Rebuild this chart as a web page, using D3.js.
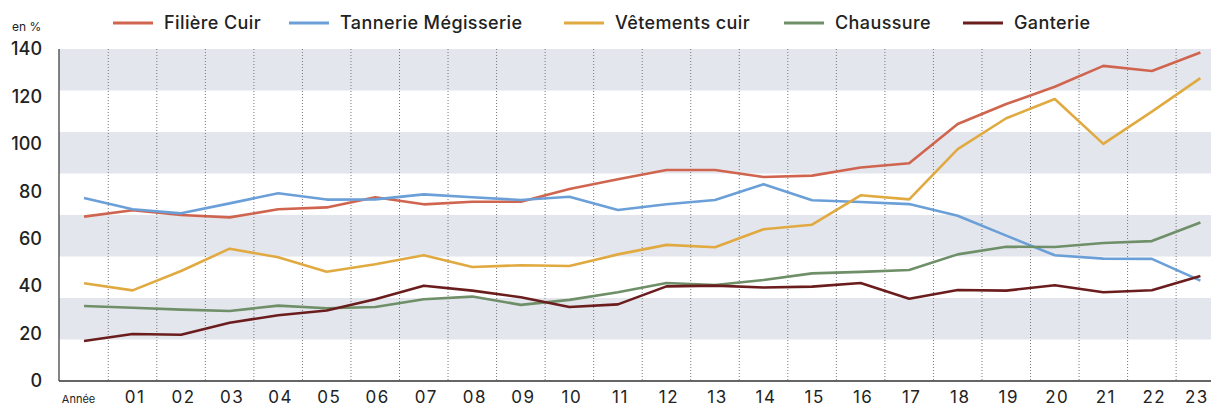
<!DOCTYPE html>
<html>
<head>
<meta charset="utf-8">
<script src="https://cdn.jsdelivr.net/npm/d3@7"></script>
<style>
  body { margin: 0; background: #fff; }
  svg text { font-family: "Inter", "DejaVu Sans", sans-serif; fill: #222; }
</style>
</head>
<body>
<svg id="chart" width="1211" height="407"></svg>
<script>
// data
var yearLabels = ["Année","01","02","03","04","05","06","07","08","09","10","11","12",
                  "13","14","15","16","17","18","19","20","21","22","23"];
var seriesNames = ["Filière Cuir", "Tannerie Mégisserie", "Vêtements cuir", "Chaussure", "Ganterie"];
var filiereCuir = [69.3,72,70,69,72.4,73.2,77.5,74.5,75.6,75.6,81,85.1,89,89,86,86.6,90,91.8,108.4,116.8,124.1,132.9,130.7,138.5];
var tannerie    = [77.2,72.4,70.7,74.9,79.2,76.5,76.6,78.7,77.5,76.3,77.7,72.1,74.5,76.3,83,76.2,75.5,74.6,69.7,61.3,53,51.6,51.5,42.3];
var vetements   = [41.2,38.2,46.4,55.8,52.2,46.1,49.2,53,48.1,48.8,48.5,53.4,57.4,56.4,64,65.9,78.3,76.6,97.8,110.8,118.9,100,113.6,127.7];
var chaussure   = [31.6,30.9,30.1,29.5,31.8,30.7,31.2,34.5,35.6,32.1,34.2,37.4,41.3,40.5,42.6,45.4,46,46.8,53.4,56.6,56.5,58.2,59,66.8];
var ganterie    = [16.9,19.8,19.5,24.6,27.7,29.7,34.5,40.2,38.1,35.3,31.2,32.3,39.9,40.2,39.4,39.8,41.3,34.7,38.4,38.1,40.4,37.4,38.3,44.3];
var yTicks = [0,20,40,60,80,100,120,140];
// shaded stripes (value ranges)
var stripes = [[122.5,140],[87.5,105],[52.5,70],[17.5,35]];

var colors = ["#d0654f","#6a9fd8","#e0aa40","#6e8f68","#6b1d1d"];
var allSeries = [filiereCuir, tannerie, vetements, chaussure, ganterie];
var legendX = [113, 289, 564, 784, 963];

var pLeft = 59, pRight = 1211, pTop = 49, pBottom = 381;
var svg = d3.select("#chart");

var x = d3.scaleLinear().domain([0, yearLabels.length - 1]).range([84, 1200.4]);
var y = d3.scaleLinear().domain([0, 140]).range([pBottom, pTop]);

// grey stripes
svg.selectAll(".stripe")
    .data(stripes)
  .enter().append("rect")
    .attr("class", "stripe")
    .attr("x", pLeft)
    .attr("width", pRight - pLeft)
    .attr("y", function(d) { return y(d[1]); })
    .attr("height", function(d) { return y(d[0]) - y(d[1]); })
    .attr("fill", "#e4e6ee");

// dotted separators between years
svg.selectAll(".sep")
    .data(d3.range(yearLabels.length - 1))
  .enter().append("line")
    .attr("class", "sep")
    .attr("x1", function(i) { return x(i + 0.5); })
    .attr("x2", function(i) { return x(i + 0.5); })
    .attr("y1", pTop)
    .attr("y2", pBottom)
    .attr("stroke", "#777")
    .attr("stroke-width", 1)
    .attr("stroke-dasharray", "1,2");

// y axis
var yAxis = svg.append("g")
    .attr("transform", "translate(" + pLeft + ",0)")
    .call(d3.axisLeft(y).tickValues(yTicks).tickSize(0).tickPadding(17));
yAxis.select(".domain").remove();
yAxis.selectAll("text")
    .style("font-size", "18px")
    .style("font-weight", "500")
    .attr("fill", "#222");

svg.append("line")
    .attr("x1", pLeft).attr("x2", pLeft)
    .attr("y1", pTop).attr("y2", pBottom)
    .attr("stroke", "#333").attr("stroke-width", 1.2);

// x axis
var last = yearLabels.length - 1;
var xAxis = svg.append("g")
    .attr("transform", "translate(0," + pBottom + ")")
    .call(d3.axisBottom(x)
      .tickValues(d3.range(yearLabels.length))
      .tickFormat(function(i) { return yearLabels[i]; })
      .tickSize(0).tickPadding(10));
xAxis.select(".domain").remove();
xAxis.selectAll("text")
    .style("font-size", function(i) { return i == 0 ? "11px" : "17px"; })
    .style("letter-spacing", function(i) { return i == 0 ? "0px" : "1.5px"; })
    .attr("fill", "#222")
    .attr("dx", function(i) { return i == 0 ? "-6" : (i == last ? "-4" : "2"); })
    .attr("dy", function(i) { return i == 0 ? "1.1em" : "0.71em"; });

svg.append("line")
    .attr("x1", pLeft).attr("x2", pRight)
    .attr("y1", pBottom).attr("y2", pBottom)
    .attr("stroke", "#333").attr("stroke-width", 1.5);

// lines
var line = d3.line()
    .x(function(d, i) { return x(i); })
    .y(function(d) { return y(d); });

svg.selectAll(".serie")
    .data(allSeries)
  .enter().append("path")
    .attr("class", "serie")
    .attr("d", line)
    .attr("fill", "none")
    .attr("stroke", function(d, i) { return colors[i]; })
    .attr("stroke-width", 2.6)
    .attr("stroke-linejoin", "round");

// legend
var leg = svg.selectAll(".leg")
    .data(seriesNames)
  .enter().append("g")
    .attr("class", "leg")
    .attr("transform", function(d, i) { return "translate(" + legendX[i] + ",23)"; });
leg.append("line")
    .attr("x1", 0).attr("x2", 40)
    .attr("stroke", function(d, i) { return colors[i]; })
    .attr("stroke-width", 3);
leg.append("text")
    .attr("x", 51)
    .attr("dy", "0.35em")
    .style("font-size", "18px")
    .style("font-weight", "500")
    .style("letter-spacing", "0.4px")
    .text(function(d) { return d; });

svg.append("text")
    .attr("x", 12).attr("y", 31)
    .style("font-size", "12px")
    .text("en %");
</script>
</body>
</html>
